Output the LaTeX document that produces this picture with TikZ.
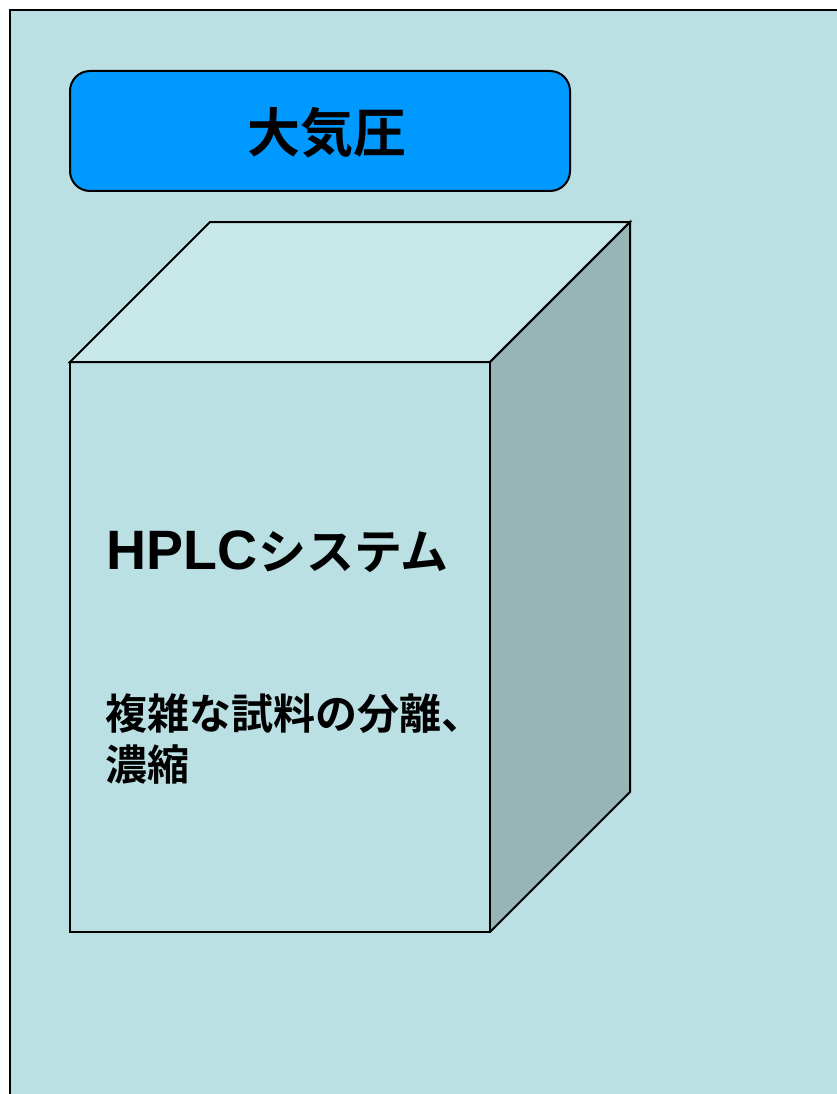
\documentclass[tikz,border=0pt]{standalone}
\usepackage{fontspec}
\setmainfont{Liberation Sans}
\newfontfamily\cjkb{Noto Sans CJK JP Bold}
\newfontfamily\latb{Liberation Sans Bold}
\definecolor{bgc}{HTML}{BAE0E3}
\definecolor{topc}{HTML}{C8E7E9}
\definecolor{sidec}{HTML}{97B4B7}
\definecolor{bluec}{HTML}{0099FF}
\tikzset{
  edge/.style={draw=black, line width=2pt, line join=miter},
  txt/.style={inner sep=0pt, outer sep=0pt, text=black},
}
\begin{document}
\begin{tikzpicture}[x=1pt,y=-1pt]
\useasboundingbox (0,0) rectangle (836,1094);
\fill[white] (0,0) rectangle (836,1094);
% frame
\fill[bgc] (10,10) rectangle (840,1100);
\draw[line width=2pt] (10,1100) -- (10,10) -- (840,10);
% top label box
\node[draw=black, line width=2pt, fill=bluec, rounded corners=20pt,
  minimum width=500pt, minimum height=120pt, inner sep=0pt] (atm) at (320,131) {};
\node[txt, anchor=base] (atmtext) at (327,153) {\fontsize{53}{53}\cjkb 大気圧};
% cube
\coordinate (fa) at (70,362);
\coordinate (fb) at (490,362);
\coordinate (fc) at (490,932);
\coordinate (fd) at (70,932);
\coordinate (ba) at (210,222);
\coordinate (bb) at (630,222);
\coordinate (bc) at (630,792);
\fill[topc] (fa) -- (ba) -- (bb) -- (fb) -- cycle;
\fill[sidec] (fb) -- (bb) -- (bc) -- (fc) -- cycle;
\fill[bgc] (fa) rectangle (fc);
\draw[edge] (fa) -- (ba) -- (bb) -- (fb) -- cycle;
\draw[edge] (fb) -- (bb) -- (bc) -- (fc);
\draw[edge] (fa) rectangle (fc);
% texts
\node[txt, anchor=base west] (hplc) at (106,569)
  {\fontsize{55.5}{55.5}\latb HPLC\hspace{1pt}\fontsize{48}{48}\cjkb システム};
\node[txt, anchor=base west] (desc1) at (105,729) {\fontsize{42}{42}\cjkb 複雑な試料の分離、};
\node[txt, anchor=base west] (desc2) at (105,780) {\fontsize{42}{42}\cjkb 濃縮};
\end{tikzpicture}
\end{document}
